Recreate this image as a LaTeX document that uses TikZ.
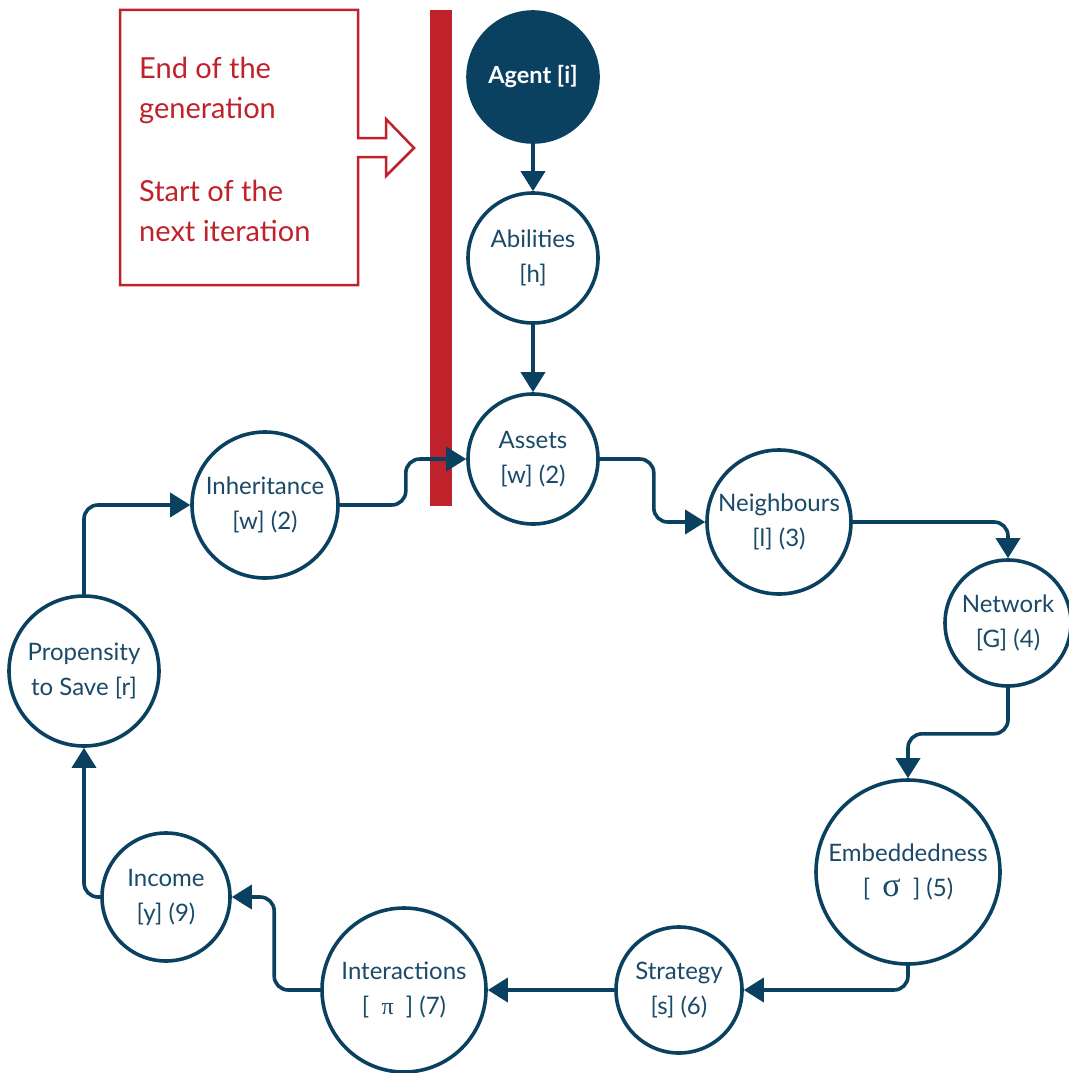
\documentclass[tikz,border=0pt]{standalone}
\usepackage{fontspec}
\setmainfont{Lato}
\newfontfamily\grk{Liberation Serif}
\usetikzlibrary{arrows.meta}
\definecolor{navy}{HTML}{0B4160}
\definecolor{txtblue}{HTML}{1B4A68}
\definecolor{redc}{HTML}{C0222C}
\tikzset{
  stage/.style={circle, draw=navy, line width=3.6pt, fill=white, inner sep=0pt,
    text=txtblue, align=center, font=\fontsize{24}{35}\selectfont},
  conn/.style={draw=navy, line width=3.6pt, rounded corners=14pt,
    -{Triangle[length=20pt,width=24pt]}},
  redtxt/.style={text=redc, align=left, anchor=west, inner sep=0pt,
    font=\fontsize{29}{40}\selectfont},
}
\begin{document}
\begin{tikzpicture}[x=1pt,y=-1pt]
\useasboundingbox (0,0) rectangle (1068,1073);
% red marker bar and note box
\fill[redc] (430,10) rectangle (452,506);
\draw[redc, line width=2.5pt] (120,10) -- (358,10) -- (358,138) -- (386,138) -- (386,119)
  -- (414,148) -- (386,176) -- (386,157) -- (358,157) -- (358,285) -- (120,285) -- cycle;
\node[redtxt] (endgen) at (139,90) {End of the\\generation};
\node[redtxt] (startnext) at (139,211) {Start of the\\next iteration};
% nodes
\node[circle, fill=navy, draw=navy, line width=3.6pt, minimum size=130pt, inner sep=0pt,
  text=white, font=\bfseries\fontsize{23.5}{35}\selectfont] (agent) at (533,77) {Agent [i]};
\node[stage, minimum size=130pt] (abi) at (533,258) {Abilities\\{[h]}};
\node[stage, minimum size=130pt] (ass) at (533,459) {Assets\\{[w]} (2)};
\node[stage, minimum size=144pt] (nei) at (779,522) {Neighbours\\{[l]} (3)};
\node[stage, minimum size=126pt] (net) at (1008,623) {Network\\{[G]} (4)};
\node[stage, minimum size=184pt] (emb) at (908,872) {Embeddedness\\{[}\ \ {\grk\fontsize{34}{35}\selectfont σ}\ \ ] (5)};
\node[stage, minimum size=126pt] (str) at (679,990) {Strategy\\{[s]} (6)};
\node[stage, minimum size=164pt] (int) at (404,990) {Interactions\\{[}\ \ {\grk π}\ \ ] (7)};
\node[stage, minimum size=128pt] (inc) at (166,897) {Income\\{[y]} (9)};
\node[stage, minimum size=150pt] (pro) at (84,671) {Propensity\\to Save [r]};
\node[stage, minimum size=146pt] (inh) at (265,505) {Inheritance\\{[w]} (2)};
% connectors
\draw[conn] (agent.south) -- (abi.north);
\draw[conn] (abi.south) -- (ass.north);
\draw[conn] (inh.east) -- ++(66,0) |- (ass.west);
\draw[conn] (ass.east) -- ++(54,0) |- (nei.west);
\draw[conn] (nei.east) -| (net.north);
\draw[conn] (net.south) -- ++(0,46) -| (emb.north);
\draw[conn] (emb.south) |- (str.east);
\draw[conn] (str.west) -- (int.east);
\draw[conn] (int.west) -- ++(-46,0) |- (inc.east);
\draw[conn] (inc.west) -| (pro.south);
\draw[conn] (pro.north) |- (inh.west);
\end{tikzpicture}
\end{document}
